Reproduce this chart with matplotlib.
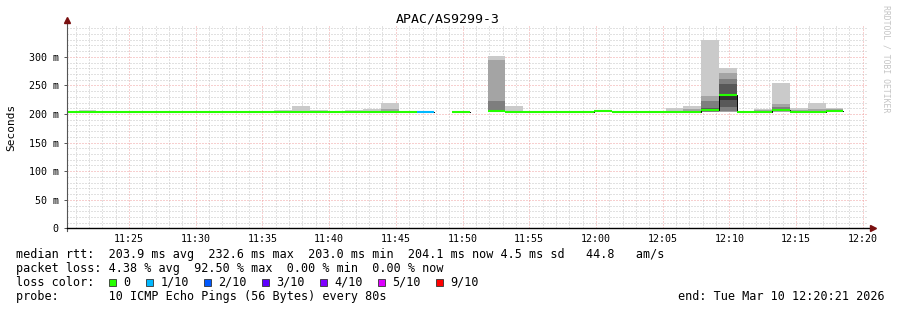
import numpy as np
import matplotlib
matplotlib.use("Agg")
import matplotlib.pyplot as plt
from matplotlib.patches import Rectangle

MONO = "DejaVu Sans Mono"

title = "APAC/AS9299-3"
first_step = "11:19:53"      # start of the first (partial) rrd step
step_sec = 80

# median rtt per step (ms), nan = 100% loss
median_ms = [
    204, 204, 204, 204, 204, 204, 204, 204, 204, 204,
    204, 204, 204, 204, 204, 204, 204, 204, 204, 204,
    204, np.nan, 204, np.nan, 205.3, 204, 204, 204, 204, 204,
    205.5, 204, 204, 204, 204, 204, 207.5, 233, 204, 204,
    206.5, 204, 204, 205.5,
]
# lost pings out of 10 per step
loss_count = [
    0, 0, 0, 0, 0, 0, 0, 0, 0, 0,
    0, 0, 0, 0, 0, 0, 0, 0, 0, 0,
    1, 10, 0, 10, 0, 0, 0, 0, 0, 0,
    0, 0, 0, 0, 0, 0, 0, 0, 0, 0,
    0, 0, 0, 0,
]
# steps with visible smoke (index into the lists above) and their sorted pings
smoke_steps = [1, 12, 13, 14, 16, 17, 18, 24, 25, 34, 35, 36, 37, 39, 40, 41, 42, 43]
smoke_pings = [
    [203, 203.5, 203.5, 204, 204, 204, 204, 204.5, 205, 207],
    [203, 203.5, 203.5, 204, 204, 204, 204, 204.5, 205, 207],
    [203, 203.5, 203.5, 204, 204, 204, 204.5, 205, 206, 213.5],
    [203, 203.5, 203.5, 204, 204, 204, 204, 204.5, 205, 207],
    [203, 203.5, 203.5, 204, 204, 204, 204, 204.5, 205, 207.5],
    [203, 203.5, 203.5, 204, 204, 204, 204.5, 205, 206, 209],
    [203, 203.5, 204, 204, 204, 204.5, 205, 206, 208, 220],
    [203, 203.5, 204, 204.5, 205, 205.5, 206, 223, 295, 302],
    [203, 203.5, 204, 204, 204, 204.5, 204.5, 205, 206, 214],
    [203, 203.5, 203.5, 204, 204, 204, 204.5, 205, 206, 210],
    [203, 203.5, 204, 204, 204, 204.5, 205, 206, 208, 214],
    [203, 203.5, 204, 205, 206, 209, 211, 222, 231, 328.5],
    [203, 204, 206, 213, 225, 231, 252, 262, 272.5, 280.7],
    [203, 203.5, 204, 204, 204, 204.5, 205, 206, 207, 209],
    [203, 204, 205, 206, 206.5, 207, 209, 212, 217, 254],
    [203, 203.5, 204, 204, 204, 204.5, 205, 206, 207, 210.5],
    [203, 203.5, 204, 204, 204, 204.5, 205, 206, 208, 220],
    [203, 203.5, 204, 204.5, 205, 205.5, 206, 207, 208, 210.5],
]

loss_labels = ["0", "1/10", "2/10", "3/10", "4/10", "5/10", "9/10"]
loss_colors = ["#26ff00", "#00b8ff", "#0059ff", "#5e00ff", "#7e00ff", "#dd00ff", "#ff0000"]
loss_steps = [0, 1, 2, 3, 4, 5, 9]

legend_lines = [
    "median rtt:  203.9 ms avg  232.6 ms max  203.0 ms min  204.1 ms now 4.5 ms sd   44.8   am/s",
    "packet loss: 4.38 % avg  92.50 % max  0.00 % min  0.00 % now",
]
probe_text = "probe:       10 ICMP Echo Pings (56 Bytes) every 80s"
end_text = "end: Tue Mar 10 12:20:21 2026"


def to_min(s):
    h, m, sec = [int(v) for v in s.split(":")]
    return (h - 11) * 60 + m + sec / 60.0


def loss_color(n):
    for lim, c in zip(loss_steps[::-1], loss_colors[::-1]):
        if n >= lim:
            return c
    return loss_colors[0]


W, H = 897, 310
px_left, px_right, px_top, px_bot = 67, 867.4, 26, 228.4
fig = plt.figure(figsize=(W / 100, H / 100), dpi=100)
ax = fig.add_axes([px_left / W, 1 - px_bot / H, (px_right - px_left) / W, (px_bot - px_top) / H])

t_start = to_min("11:20:21")
t_end = to_min("12:20:21")
ax.set_xlim(t_start, t_end)
ax.set_ylim(0, (px_bot - px_top) / 0.572)

# step edges in minutes
t0 = to_min(first_step)
edges = t0 + np.arange(len(median_ms) + 1) * step_sec / 60.0

# smoke, outer pairs light, inner pairs dark
half = 5
for idx, p in zip(smoke_steps, smoke_pings):
    for k in range(half):
        g = int(190 / half * (half - (k + 1))) + 50
        ax.fill_between([edges[idx], edges[idx + 1]], p[k], p[9 - k],
                        color=(g / 255, g / 255, g / 255), lw=0, zorder=2)

# median: thin black step line under coloured segments
med = np.array(median_ms, dtype=float)
ax.step(edges, np.append(med, med[-1]), where="post", color="black", lw=0.7, zorder=3)
for i, m in enumerate(med):
    if np.isnan(m):
        continue
    ax.hlines(m, edges[i], edges[i + 1], colors=loss_color(loss_count[i]), lw=1.5,
              zorder=4, capstyle="butt")

# grid
ax.set_xticks(np.arange(25, 81, 5))
ax.set_xticklabels([f"{11 + m // 60}:{m % 60:02d}" for m in range(25, 81, 5)])
ax.set_xticks(np.arange(21, 81, 1), minor=True)
ax.set_yticks(np.arange(0, 301, 50))
ax.set_yticklabels(["0"] + [f"{v} m" for v in range(50, 301, 50)])
ax.set_yticks(np.arange(0, 351, 10), minor=True)
ax.grid(which="minor", color="#c4c4c4", lw=0.72, ls=(0, (1, 2)))
ax.grid(which="major", color="#f0a0a0", lw=0.72, ls=(0, (1, 2)))
ax.set_axisbelow(True)

for s in ["top", "right", "left", "bottom"]:
    ax.spines[s].set_visible(False)
ax.plot([0, 0], [-0.015, 1.03], transform=ax.transAxes, color="#555555", lw=0.8, clip_on=False, zorder=5)
ax.plot([0, 1.005], [0, 0], transform=ax.transAxes, color="black", lw=1.0, clip_on=False, zorder=5)
ax.plot([0], [1.03], marker="^", ms=4, color="#7a1010", transform=ax.transAxes, clip_on=False, zorder=6)
ax.plot([1.007], [0], marker=">", ms=4, color="#7a1010", transform=ax.transAxes, clip_on=False, zorder=6)

ax.tick_params(which="major", length=2, width=0.7, color="#555555", labelsize=7.2,
               labelfontfamily=MONO)
ax.tick_params(which="minor", length=0)
ax.tick_params(axis="x", which="major", length=0, pad=4)
ax.tick_params(axis="y", pad=4)

fig.text(447.5 / W, 1 - 19.5 / H, title, ha="center", va="center", family=MONO, fontsize=9.5)
fig.text(11 / W, 1 - 127 / H, "Seconds", rotation=90, ha="center", va="center", family=MONO, fontsize=8)
fig.text(886 / W, 1 - 5 / H, "RRDTOOL / TOBI OETIKER", rotation=270, ha="center", va="top",
         family=MONO, fontsize=5.9, color="#c4c4c4")

# legend text
fs = 8.45
cw = 7.05
baselines = [258.3, 272.1, 285.9, 299.6]
for line, yb in zip(legend_lines, baselines):
    fig.text(16 / W, 1 - yb / H, line, family=MONO, fontsize=fs, va="baseline")
fig.text(16 / W, 1 - baselines[2] / H, "loss color:", family=MONO, fontsize=fs, va="baseline")
bx = 109
for lab, col in zip(loss_labels, loss_colors):
    fig.add_artist(Rectangle((bx / W, 1 - 285.5 / H), 7 / W, 7 / H, transform=fig.transFigure,
                             facecolor=col, edgecolor="#333333", lw=0.6))
    tx = bx + 14.5
    fig.text(tx / W, 1 - baselines[2] / H, lab, family=MONO, fontsize=fs, va="baseline")
    bx = tx + len(lab) * cw + 15.3
fig.text(16 / W, 1 - baselines[3] / H, probe_text, family=MONO, fontsize=fs, va="baseline")
fig.text(885 / W, 1 - baselines[3] / H, end_text, family=MONO, fontsize=fs, va="baseline", ha="right")

fig.savefig("out.png", dpi=100)
